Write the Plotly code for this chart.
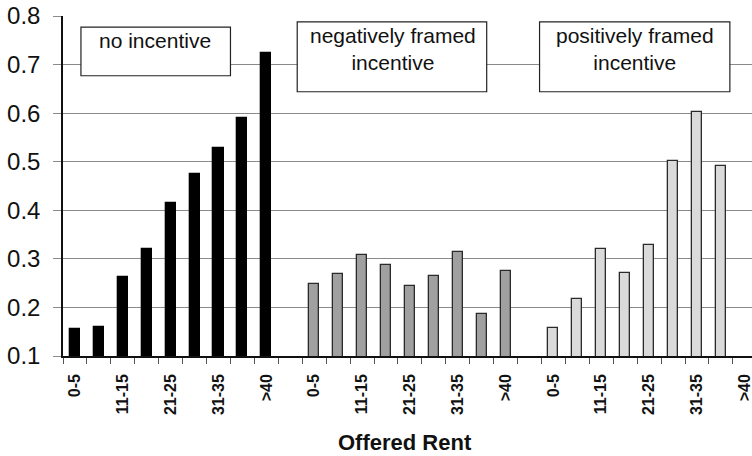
import plotly.graph_objects as go

categories = ["0-5", "6-10", "11-15", "16-20", "21-25", "26-30", "31-35", "36-40", ">40"]
groups = ["no incentive", "negatively framed<br>incentive", "positively framed<br>incentive"]
no_incentive = [0.156, 0.160, 0.262, 0.320, 0.416, 0.475, 0.528, 0.589, 0.724]
negative = [0.248, 0.268, 0.307, 0.287, 0.245, 0.265, 0.315, 0.186, 0.276]
positive = [0.157, 0.217, 0.320, 0.270, 0.328, 0.502, 0.602, 0.491, None]
series = [no_incentive, negative, positive]
y_ticks = [0.1, 0.2, 0.3, 0.4, 0.5, 0.6, 0.7, 0.8]

fills = ["#000000", "#a0a0a0", "#dadada"]
lines = ["#000000", "#2a2a2a", "#2a2a2a"]
FONT = "Liberation Sans, Arial, sans-serif"

fig = go.Figure()
slot = len(categories) + 1
tickvals, ticktext = [], []
for g, vals in enumerate(series):
    xs = [g * slot + i for i in range(len(categories))]
    fig.add_trace(go.Bar(
        x=xs, y=vals, width=0.42,
        marker=dict(color=fills[g], line=dict(color=lines[g], width=1.3)),
        showlegend=False,
    ))
    for i, c in enumerate(categories):
        if i % 2 == 0:
            tickvals.append(g * slot + i)
            ticktext.append(c)

# label boxes
boxes = [(0.25, 6.5, 0.677, 0.777), (9.29, 17.21, 0.644, 0.788), (19.42, 27.375, 0.644, 0.788)]
text_pos = [(3.35, 0.749), (13.29, 0.733), (23.4, 0.733)]
for (x0, x1, y0, y1), (tx, ty), label in zip(boxes, text_pos, groups):
    fig.add_shape(type="rect", x0=x0, x1=x1, y0=y0, y1=y1, xref="x", yref="y",
                  fillcolor="white", line=dict(color="#222222", width=1.2), layer="above")
    fig.add_annotation(x=tx, y=ty, xref="x", yref="y", text=label, showarrow=False,
                       font=dict(family=FONT, size=21, color="#111111"),
                       xanchor="center", yanchor="middle", align="center")

fig.add_annotation(x=0.496, y=-0.253, xref="paper", yref="paper", text="<b>Offered Rent</b>",
                   showarrow=False, font=dict(family=FONT, size=22, color="#111111"),
                   xanchor="center", yanchor="middle")

fig.update_layout(
    width=752, height=456,
    margin=dict(l=63, r=0, t=16, b=100, autoexpand=False),
    paper_bgcolor="white", plot_bgcolor="white",
    bargap=0,
    font=dict(family=FONT, color="#111111"),
)
fig.update_xaxes(
    range=[-0.5, 28.3], automargin=False,
    tickmode="array", tickvals=tickvals, ticktext=ticktext,
    tickangle=-90, tickfont=dict(family=FONT, size=16, color="#111111", weight="bold"),
    ticks="", showgrid=False, zeroline=False,
    showline=True, linecolor="#111111", linewidth=1.5,
    minor=dict(ticks="outside", tick0=0.5, dtick=1, ticklen=6, tickcolor="#555555",
               tickwidth=1, showgrid=False),
    ticklabelstandoff=10, ticklabeloverflow="allow",
)
fig.update_yaxes(
    range=[0.1, 0.8], automargin=False, tickmode="array", tickvals=y_ticks,
    ticktext=[f"{v:.1f}" for v in y_ticks],
    tickfont=dict(family=FONT, size=24, color="#111111"),
    showgrid=True, gridcolor="#8a8a8a", gridwidth=1.3,
    zeroline=False, showline=True, linecolor="#111111", linewidth=1.5,
    ticks="outside", ticklen=8, tickcolor="#8a8a8a",
    ticklabelstandoff=8, ticklabeloverflow="allow",
)

fig.write_html(
    "out.html",
    config={"displayModeBar": False},
    post_script="document.body.style.margin='0';document.body.style.padding='0';document.body.style.overflow='hidden';",
)
